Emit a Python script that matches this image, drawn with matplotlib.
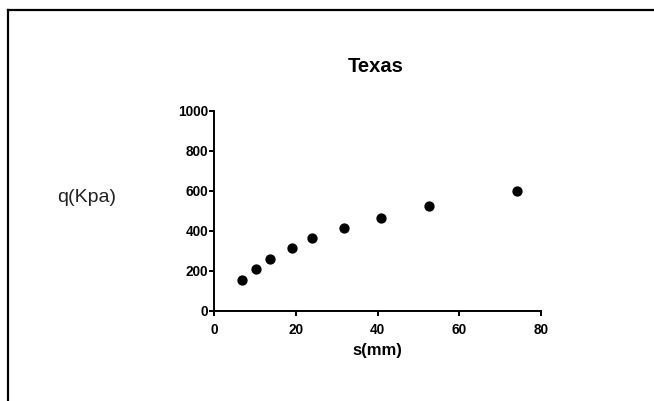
import matplotlib
matplotlib.use('Agg')
import matplotlib.pyplot as plt
from matplotlib.lines import Line2D

# values
s_mm = [6.8, 10.2, 13.7, 18.9, 23.9, 31.7, 40.8, 52.6, 74.2]
q_kpa = [156, 211, 261, 316, 367, 417, 465, 527, 598]
x_ticks = [0, 20, 40, 60, 80]
y_ticks = [0, 200, 400, 600, 800, 1000]

plt.rcParams['font.family'] = ['Liberation Sans', 'DejaVu Sans']

W, H = 654, 401
fig = plt.figure(figsize=(W / 100, H / 100), dpi=100)
ax = fig.add_axes([214.5 / W, 1 - 311 / H, (541 - 214.5) / W, (311 - 111) / H])

ax.plot(s_mm, q_kpa, 'o', color='black', markersize=6.4, clip_on=False)

ax.set_xlim(0, 80)
ax.set_ylim(0, 1000)
ax.set_xticks(x_ticks)
ax.set_yticks(y_ticks)
for sp in ['top', 'right']:
    ax.spines[sp].set_visible(False)
for sp in ['left', 'bottom']:
    ax.spines[sp].set_linewidth(1.4)
ax.tick_params(direction='out', length=3.8, width=1.4, labelsize=9.8)
ax.tick_params(axis='x', pad=4.5)
ax.tick_params(axis='y', pad=0.8)
for lab in ax.get_xticklabels() + ax.get_yticklabels():
    lab.set_fontweight('bold')

ax.set_xlabel('s(mm)', fontsize=12, fontweight='bold', labelpad=5)
fig.text(376 / W, 1 - 66 / H, 'Texas', fontsize=14.5, fontweight='bold',
         ha='center', va='center')
fig.text(86.5 / W, 1 - 198 / H, 'q(Kpa)', fontsize=14, ha='center', va='center',
         color='#222222')

# frame of the original picture (only top and left edges visible)
fig.add_artist(Line2D([8 / W, 1], [1 - 10 / H, 1 - 10 / H], color='black', lw=1.6,
                      transform=fig.transFigure))
fig.add_artist(Line2D([8 / W, 8 / W], [0, 1 - 10 / H], color='black', lw=1.6,
                      transform=fig.transFigure))

fig.savefig('out.png', dpi=100)
